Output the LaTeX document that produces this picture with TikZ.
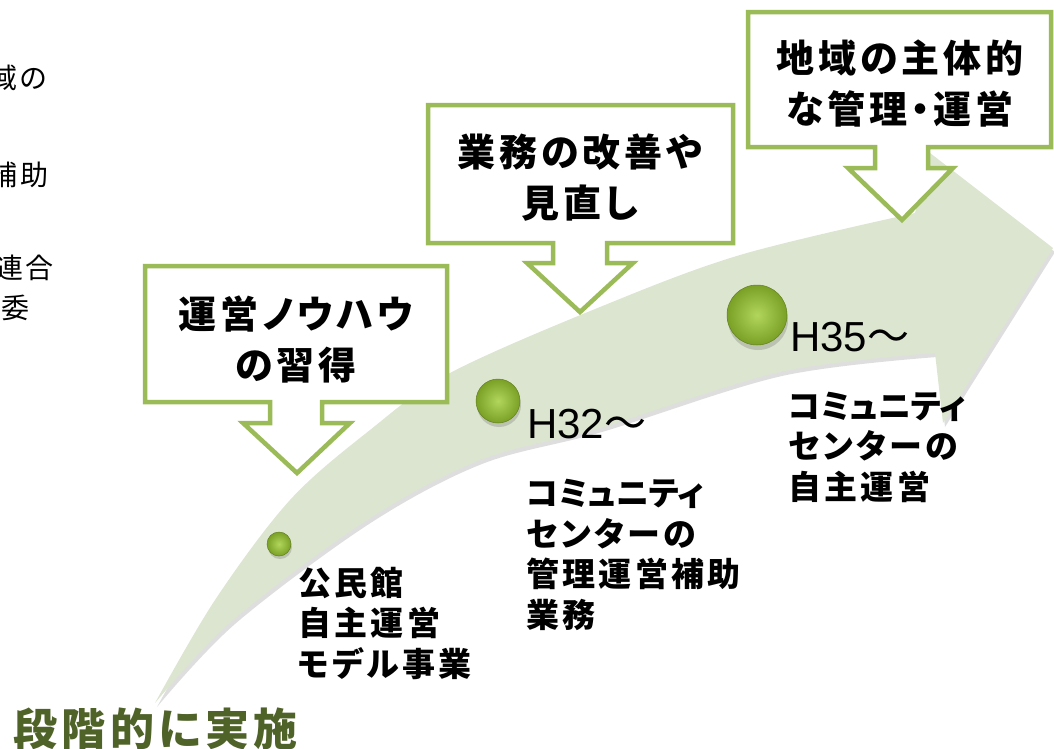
\documentclass[tikz,border=0pt]{standalone}
\usepackage{fontspec}
\setmainfont{Liberation Sans}
\newfontfamily\jp[LetterSpace=10,RawFeature=+palt]{Noto Sans CJK JP}
\newfontfamily\jpk[RawFeature=+palt]{Noto Sans CJK JP}
\newfontfamily\jpplain{Noto Sans CJK JP}
\definecolor{boxgreen}{RGB}{155,187,89}
\definecolor{bandc}{RGB}{220,229,208}
\definecolor{dotin}{RGB}{178,214,92}
\definecolor{dotout}{RGB}{122,160,38}
\definecolor{titlegreen}{RGB}{79,98,40}
\def\bandpath{plot[smooth,tension=0.55] coordinates {(155,703) (215,600) (290,500) (370,430) (450,373) (600,307) (740,255) (915,213)} -- (930,153) -- (1053,248) -- (943,423) -- (935,353) -- plot[smooth,tension=0.55] coordinates {(935,353) (780,372) (600,428) (480,460) (367,520) (233,620) (155,703)} -- cycle}
\tikzset{
  callout/.style={fill=white, draw=boxgreen, line width=4.5pt, line join=miter},
  boxtext/.style={font=\jp\bfseries\fontsize{38}{51}\selectfont, align=center, inner sep=0pt},
  lbl/.style={font=\jp\bfseries\fontsize{33}{40.5}\selectfont, align=left, anchor=west, inner sep=0pt},
  yeartxt/.style={font=\fontsize{42}{48}\selectfont, anchor=base west, inner sep=0pt},
  dot/.style={circle, inner color=dotin, outer color=dotout, inner sep=0pt, draw=dotout!80!black, line width=0.5pt},
  edgetxt/.style={font=\jp\fontsize{28}{34}\selectfont, anchor=east, inner sep=0pt}
}
\begin{document}
\begin{tikzpicture}[x=1pt,y=-1pt]
\useasboundingbox (0,0) rectangle (1054,748);
% band shadow and band
\begin{scope}[shift={(2,4)}]
\fill[black, opacity=0.13] \bandpath;
\end{scope}
\fill[bandc] \bandpath;
% dots
\fill[black, opacity=0.15] (280,547) circle (12);
\node[dot, minimum size=24pt] (d1) at (279,544) {};
\fill[black, opacity=0.15] (499,405) circle (22);
\node[dot, minimum size=44pt] (d2) at (498,401) {};
\fill[black, opacity=0.15] (758,320) circle (30);
\node[dot, minimum size=60pt] (d3) at (757,315) {};
% callouts
\draw[callout] (145,266) -- (447,266) -- (447,402) -- (322,402) -- (322,423) -- (350,423) -- (297,473) -- (243,423) -- (270,423) -- (270,402) -- (145,402) -- cycle;
\draw[callout] (428,105) -- (733,105) -- (733,243) -- (607,243) -- (607,263) -- (633,263) -- (580,312) -- (527,263) -- (553,263) -- (553,243) -- (428,243) -- cycle;
\draw[callout] (748,12) -- (1051,12) -- (1051,147) -- (928,147) -- (928,168) -- (953,168) -- (902,220) -- (848,168) -- (875,168) -- (875,147) -- (748,147) -- cycle;
\node[boxtext] (t1) at (296,339) {運営ノウハウ\\の習得};
\node[boxtext] (t2) at (580,178) {業務の改善や\\見直し};
\node[boxtext] (t3) at (900,84) {地域の主体的\\な管理・運営};
% labels
\node[lbl] (l1) at (298,623) {公民館\\自主運営\\モデル事業};
\node[lbl] (l2) at (526,555) {{\jpk コミュニティ}\\センターの\\管理運営補助\\業務};
\node[lbl] (l3) at (788,447) {{\jpk コミュニティ}\\センターの\\自主運営};
\node[yeartxt] (y1) at (527,438) {H32{\jpplain 〜}};
\node[yeartxt] (y2) at (790,351) {H35{\jpplain 〜}};
% title
\node[font=\jp\bfseries\fontsize{44}{50}\selectfont, text=titlegreen, anchor=base west, inner sep=0pt] (title) at (13,745) {段階的に実施};
% partial texts at left edge
\node[edgetxt] (e1) at (47,78) {域の};
\node[edgetxt] (e2) at (49,175) {補助};
\node[edgetxt] (e3) at (54,268) {連合};
\node[edgetxt] (e4) at (30,308) {委};
\end{tikzpicture}
\end{document}
